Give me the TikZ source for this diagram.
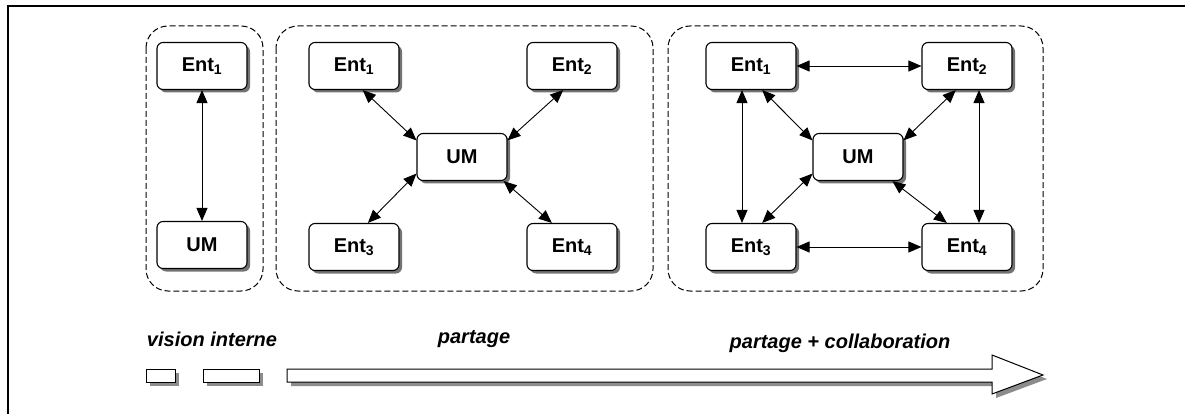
\documentclass[tikz,border=0pt]{standalone}
\usepackage{fontspec}
\setsansfont{Liberation Sans}
\usepackage{tikz}
\usetikzlibrary{arrows.meta,shadows}

\tikzset{
	entbox/.style={draw, line width=1.1pt, fill=white, rounded corners=6pt,
		minimum width=90pt, minimum height=47pt, inner sep=0pt,
		font=\sffamily\bfseries\fontsize{20}{22}\selectfont,
		drop shadow={shadow xshift=3pt, shadow yshift=-3pt, fill=black!55, opacity=1}},
	groupbox/.style={draw, line width=1pt, dash pattern=on 6pt off 3pt, rounded corners=22pt},
	link/.style={{Triangle[length=13pt,width=11pt]}-{Triangle[length=13pt,width=11pt]}, line width=0.9pt},
	tag/.style={font=\sffamily\bfseries\itshape\fontsize{20}{22}\selectfont, inner sep=0pt},
	bar/.style={draw, line width=1pt, fill=white,
		drop shadow={shadow xshift=4pt, shadow yshift=-4pt, fill=black!45, opacity=1}}
}

\begin{document}
\begin{tikzpicture}[x=1pt, y=-1pt]
				\useasboundingbox (0,0) rectangle (1194,414);

				%Frame
				\draw[line width=2pt] (8,414) -- (8,6) -- (1185,6);

				%Groups
				\draw[groupbox] (146,26) rectangle (263,291);
				\draw[groupbox] (276,26) rectangle (653,291);
				\draw[groupbox] (668,26) rectangle (1043,291);

				%Nodes
				\node[entbox] (ent1a) 	at 	(202,66) 	{Ent\textsubscript{1}};
				\node[entbox] (uma) 	at 	(202,245) 	{UM};

				\node[entbox] (ent1b) 	at 	(354,66) 	{Ent\textsubscript{1}};
				\node[entbox] (ent2b) 	at 	(572,66) 	{Ent\textsubscript{2}};
				\node[entbox] (umb) 	at 	(462,157) 	{UM};
				\node[entbox] (ent3b) 	at 	(354,247) 	{Ent\textsubscript{3}};
				\node[entbox] (ent4b) 	at 	(572,247) 	{Ent\textsubscript{4}};

				\node[entbox] (ent1c) 	at 	(751,66) 	{Ent\textsubscript{1}};
				\node[entbox] (ent2c) 	at 	(967,66) 	{Ent\textsubscript{2}};
				\node[entbox] (umc) 	at 	(858,157) 	{UM};
				\node[entbox] (ent3c) 	at 	(751,247) 	{Ent\textsubscript{3}};
				\node[entbox] (ent4c) 	at 	(967,247) 	{Ent\textsubscript{4}};

				%Lines
				\draw[link] (ent1a.south) -- (uma.north);

				\draw[link] (ent1b.-70) -- (umb.160);
				\draw[link] (ent2b.-110) -- (umb.20);
				\draw[link] (ent3b.60) -- (umb.200);
				\draw[link] (ent4b.130) -- (umb.-30);

				\draw[link] (ent1c.east) -- (ent2c.west);
				\draw[link] (ent3c.east) -- (ent4c.west);
				\draw[link] ([xshift=-9pt]ent1c.south) -- ([xshift=-9pt]ent3c.north);
				\draw[link] ([xshift=12pt]ent2c.south) -- ([xshift=12pt]ent4c.north);
				\draw[link] (ent1c.-65) -- (umc.160);
				\draw[link] (ent2c.-115) -- (umc.20);
				\draw[link] (ent3c.65) -- (umc.200);
				\draw[link] (ent4c.130) -- (umc.-35);

				%Scale
				\node[tag] (vision) 	at 	(212,339) 	{vision interne};
				\node[tag] (share) 	at 	(474,339) 	{partage};
				\node[tag] (collab) 	at 	(840,343) 	{partage + collaboration};

				\draw[bar] (146,369) rectangle (175,382);
				\draw[bar] (203,369) rectangle (259,382);
				\draw[bar] (287,369) -- (992,369) -- (992,355) -- (1043,375)
					-- (992,394) -- (992,382) -- (287,382) -- cycle;

			\end{tikzpicture}
\end{document}
